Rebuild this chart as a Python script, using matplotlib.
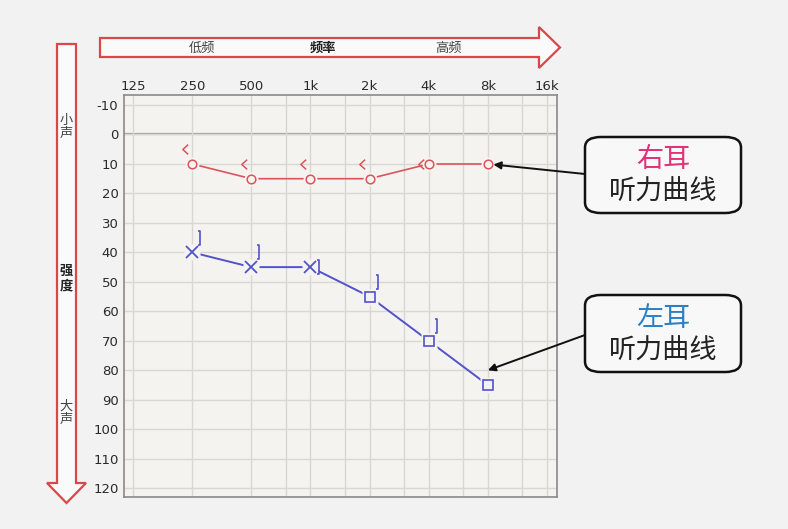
import matplotlib
matplotlib.use("Agg")
import matplotlib.pyplot as plt
from matplotlib.patches import Polygon, FancyBboxPatch
from matplotlib.path import Path
from matplotlib.ticker import NullFormatter
from matplotlib.transforms import offset_copy

plt.rcParams['font.family'] = ['DejaVu Sans', 'Noto Sans CJK SC']
plt.rcParams['axes.unicode_minus'] = False
CJK = ['Noto Sans CJK SC', 'DejaVu Sans']

# audiogram data (dB HL)
freqs = [125, 250, 500, 1000, 2000, 4000, 8000, 16000]
freq_labels = ["125", "250", "500", "1k", "2k", "4k", "8k", "16k"]
minor_freqs = [750, 1500, 3000, 6000, 12000]
db_ticks = list(range(-10, 121, 10))

right_f = [250, 500, 1000, 2000, 4000, 8000]
right_db = [10, 15, 15, 15, 10, 10]
right_bone_f = [250, 500, 1000, 2000, 4000]
right_bone_db = [5, 10, 10, 10, 10]

left_x_f = [250, 500, 1000]
left_x_db = [40, 45, 45]
left_sq_f = [2000, 4000, 8000]
left_sq_db = [55, 70, 85]
left_bone_f = [250, 500, 1000, 2000, 4000]
left_bone_db = [35, 40, 45, 50, 65]

RED = "#d9555a"
BLUE = "#5252cc"
BG = "#f4f3f0"

W, H = 788, 529
fig = plt.figure(figsize=(W / 100, H / 100), dpi=100)
fig.patch.set_facecolor("#f2f2f2")

def px(x, y):
    return (x / W, 1 - y / H)

ax = fig.add_axes([124 / W, 1 - 497 / H, (557 - 124) / W, (497 - 95) / H])
ax.set_facecolor(BG)
ax.set_xscale('log', base=2)
ax.set_xlim(112.4, 18000)
ax.set_ylim(123, -13.4)

ax.set_xticks(freqs)
ax.set_xticklabels(freq_labels)
ax.set_xticks(minor_freqs, minor=True)
ax.xaxis.set_minor_formatter(NullFormatter())
ax.set_yticks(db_ticks)
ax.xaxis.tick_top()
ax.tick_params(axis='both', which='both', length=0, labelsize=9.5, colors="#2a2a2a")
ax.tick_params(axis='x', pad=1.5)
ax.tick_params(axis='y', pad=4)
ax.grid(True, which='both', color="#d9d7d2", lw=1)
ax.axhline(0, color="#a0a0a0", lw=1.6, zorder=1)
for s in ax.spines.values():
    s.set_color("#8a8a8a")
    s.set_linewidth(1.2)

# connecting lines, with a gap around each symbol
ax.plot(right_f, right_db, color=RED, lw=1.2, zorder=2)
ax.plot(left_x_f + left_sq_f, left_x_db + left_sq_db, color=BLUE, lw=1.4, zorder=2)
ax.plot(right_f, right_db, 'o', ms=10, mfc=BG, mec='none', zorder=3)
ax.plot(left_x_f + left_sq_f, left_x_db + left_sq_db, 's', ms=11, mfc=BG, mec='none', zorder=3)

ax.plot(right_f, right_db, 'o', ms=6.2, mfc='none', mec=RED, mew=1.1, zorder=4)
ax.plot(left_x_f, left_x_db, 'x', ms=8, mec=BLUE, mew=1.3, zorder=4)
ax.plot(left_sq_f, left_sq_db, 's', ms=7.5, mfc='none', mec=BLUE, mew=1.2, zorder=4)

# bone conduction symbols
lt = Path([(0.55, 1), (-0.55, 0), (0.55, -1)])
rb = Path([(-0.35, 1), (0, 1), (0, -1), (-0.35, -1)])
ax.plot(right_bone_f, right_bone_db, ls='none', marker=lt, ms=7, mfc='none', mec=RED, mew=1.1,
        zorder=4, transform=offset_copy(ax.transData, fig=fig, x=-5.5, y=0, units='points'))
ax.plot(left_bone_f, left_bone_db, ls='none', marker=rb, ms=10, mfc='none', mec=BLUE, mew=1.2,
        zorder=4, transform=offset_copy(ax.transData, fig=fig, x=5.8, y=0, units='points'))

# frequency arrow
top = [(100, 38), (539, 38), (539, 27), (560, 47.5), (539, 68), (539, 57), (100, 57)]
fig.patches.append(Polygon([px(*p) for p in top], closed=True, transform=fig.transFigure,
                           fc="#fafafa", ec="#d9464b", lw=1.6))
fig.text(*px(202, 48), "低频", family=CJK, fontsize=9.5, color="#444444", ha='center', va='center')
fig.text(*px(323, 48), "频率", family=CJK, fontsize=9.5, weight='bold', color="#222222", ha='center', va='center')
fig.text(*px(448, 48), "高频", family=CJK, fontsize=9.5, color="#444444", ha='center', va='center')

# intensity arrow
left = [(57, 44), (76, 44), (76, 483), (86, 483), (66.5, 503), (47, 483), (57, 483)]
fig.patches.append(Polygon([px(*p) for p in left], closed=True, transform=fig.transFigure,
                           fc="#fafafa", ec="#d9464b", lw=1.6))
for txt, y, bold in [("小\n声", 127, False), ("强\n度", 278, True), ("大\n声", 413, False)]:
    fig.text(*px(66.5, y), txt, family=CJK, fontsize=9.5, linespacing=1.0,
             weight='bold' if bold else 'normal', color="#222222" if bold else "#444444",
             ha='center', va='center')

# callouts
def callout(y0, y1, title, tcolor, tip, ystart, shrink):
    fig.patches.append(FancyBboxPatch(px(585, y1), (741 - 585) / W, (y1 - y0) / H,
                                      boxstyle="round,pad=0,rounding_size=0.02",
                                      transform=fig.transFigure, fc="#f8f8f8", ec="#111111", lw=1.8))
    cx = 663
    fig.text(*px(cx, y0 + 0.30 * (y1 - y0)), title, family=CJK, fontsize=19.5, color=tcolor,
             ha='center', va='center')
    fig.text(*px(cx, y0 + 0.73 * (y1 - y0)), "听力曲线", family=CJK, fontsize=19.5, color="#222222",
             ha='center', va='center')
    ax.annotate("", xy=tip, xycoords='data', xytext=px(585, ystart),
                textcoords='figure fraction',
                arrowprops=dict(arrowstyle='-|>', color="#111111", lw=1.4, mutation_scale=11,
                                shrinkA=0, shrinkB=shrink))

callout(137, 213, "右耳", "#e0337a", (right_f[-1], right_db[-1]), 174, 4)
callout(295, 372, "左耳", "#2a80c4", (left_sq_f[-1], left_sq_db[-1] - 5), 335, 0)

fig.savefig("out.png", dpi=100, facecolor=fig.get_facecolor())
